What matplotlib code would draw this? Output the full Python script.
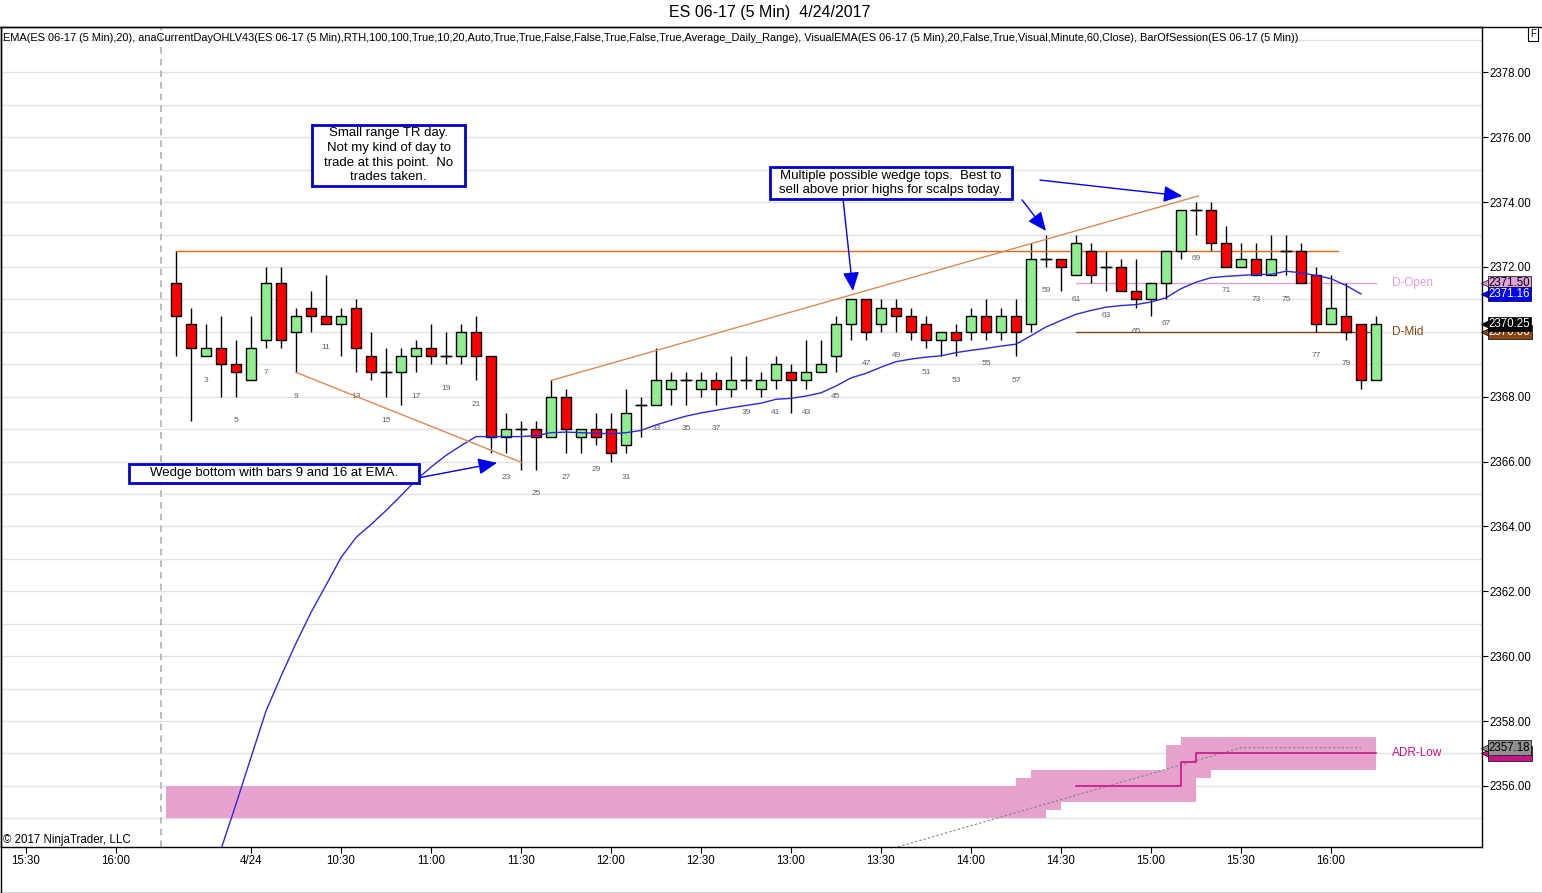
import matplotlib
matplotlib.use("Agg")
import matplotlib.pyplot as plt
import matplotlib.transforms as mtransforms
from matplotlib.patches import Rectangle
from matplotlib.lines import Line2D
from matplotlib.ticker import MultipleLocator, FormatStrFormatter
import numpy as np

plt.rcParams['font.family'] = ['Liberation Sans', 'DejaVu Sans']

# ES 06-17 5 min bars, 4/24/2017 RTH (bar 1 = 9:35)
opens = [2371.5, 2370.25, 2369.25, 2369.5, 2369.0, 2368.5, 2369.75, 2371.5, 2370.0, 2370.75,
         2370.5, 2370.25, 2370.75, 2369.25, 2368.75, 2368.75, 2369.25, 2369.5, 2369.25, 2369.25,
         2370.0, 2369.25, 2366.75, 2367.0, 2367.0, 2366.75, 2368.0, 2366.75, 2367.0, 2367.0,
         2366.5, 2367.75, 2367.75, 2368.25, 2368.5, 2368.25, 2368.5, 2368.25, 2368.5, 2368.25,
         2368.5, 2368.75, 2368.5, 2368.75, 2369.25, 2370.25, 2371.0, 2370.25, 2370.75, 2370.5,
         2370.25, 2369.75, 2370.0, 2370.0, 2370.5, 2370.0, 2370.5, 2370.25, 2372.25, 2372.25,
         2371.75, 2372.5, 2372.0, 2372.0, 2371.25, 2371.0, 2371.5, 2372.5, 2373.75, 2373.75,
         2372.75, 2372.0, 2372.25, 2371.75, 2372.5, 2372.5, 2371.75, 2370.25, 2370.5, 2370.25,
         2368.5]
highs = [2372.5, 2370.75, 2370.25, 2370.5, 2369.75, 2370.5, 2372.0, 2372.0, 2370.75, 2371.25,
         2371.75, 2370.75, 2371.0, 2370.0, 2369.5, 2369.5, 2369.75, 2370.25, 2370.0, 2370.25,
         2370.5, 2369.25, 2367.5, 2367.25, 2367.25, 2368.5, 2368.25, 2367.0, 2367.5, 2367.5,
         2368.25, 2368.0, 2369.5, 2368.75, 2368.75, 2368.75, 2368.75, 2369.25, 2369.25, 2368.75,
         2369.25, 2369.0, 2369.75, 2369.75, 2370.5, 2371.0, 2371.0, 2371.0, 2371.0, 2370.75,
         2370.5, 2370.0, 2370.25, 2370.75, 2371.0, 2370.75, 2371.0, 2372.75, 2373.0, 2372.25,
         2373.0, 2372.75, 2372.5, 2372.25, 2372.25, 2371.5, 2372.5, 2373.75, 2374.0, 2374.0,
         2373.25, 2372.75, 2372.75, 2373.0, 2373.0, 2372.75, 2372.0, 2371.75, 2371.5, 2370.25,
         2370.5]
lows = [2369.25, 2367.25, 2369.25, 2368.0, 2368.0, 2368.5, 2369.5, 2369.5, 2368.75, 2370.0,
        2370.25, 2369.25, 2368.75, 2368.5, 2368.0, 2367.75, 2368.75, 2369.0, 2369.0, 2369.0,
        2368.5, 2366.25, 2366.25, 2365.75, 2365.75, 2366.75, 2366.25, 2366.25, 2366.5, 2366.0,
        2366.25, 2366.75, 2367.75, 2367.75, 2367.75, 2368.0, 2367.75, 2368.0, 2368.25, 2368.0,
        2368.25, 2367.5, 2368.25, 2368.75, 2368.75, 2369.75, 2369.75, 2370.0, 2370.0, 2369.75,
        2369.5, 2369.25, 2369.25, 2369.75, 2369.75, 2369.75, 2369.25, 2370.0, 2372.0, 2371.25,
        2371.75, 2371.5, 2371.25, 2371.25, 2370.75, 2370.5, 2371.0, 2372.25, 2373.0, 2372.5,
        2372.0, 2372.0, 2371.75, 2371.75, 2371.75, 2371.5, 2370.0, 2370.25, 2369.75, 2368.25,
        2368.5]
closes = [2370.5, 2369.5, 2369.5, 2369.0, 2368.75, 2369.5, 2371.5, 2369.75, 2370.5, 2370.5,
          2370.25, 2370.5, 2369.5, 2368.75, 2368.75, 2369.25, 2369.5, 2369.25, 2369.25, 2370.0,
          2369.25, 2366.75, 2367.0, 2367.0, 2366.75, 2368.0, 2367.0, 2367.0, 2366.75, 2366.25,
          2367.5, 2367.75, 2368.5, 2368.5, 2368.5, 2368.5, 2368.25, 2368.5, 2368.5, 2368.5,
          2369.0, 2368.5, 2368.75, 2369.0, 2370.25, 2371.0, 2370.0, 2370.75, 2370.5, 2370.0,
          2369.75, 2370.0, 2369.75, 2370.5, 2370.0, 2370.5, 2370.0, 2372.25, 2372.25, 2372.0,
          2372.75, 2371.75, 2372.0, 2371.25, 2371.0, 2371.5, 2372.5, 2373.75, 2373.75, 2372.75,
          2372.0, 2372.25, 2371.75, 2372.25, 2372.5, 2371.5, 2370.25, 2370.75, 2370.0, 2368.5,
          2370.25]

# EMA(20) as drawn, starting at bar index 2
ema_start = 2
ema = [2352.6, 2354.05, 2355.44, 2356.88, 2358.31, 2359.38, 2360.40, 2361.35, 2362.19, 2363.04,
       2363.66, 2364.06, 2364.49, 2364.95, 2365.43, 2365.83, 2366.19, 2366.49, 2366.77, 2366.77,
       2366.77, 2366.77, 2366.80, 2366.89, 2366.91, 2366.89, 2366.87, 2366.86, 2366.89, 2366.96,
       2367.13, 2367.27, 2367.40, 2367.50, 2367.58, 2367.66, 2367.73, 2367.80, 2367.92, 2367.95,
       2368.02, 2368.12, 2368.33, 2368.58, 2368.72, 2368.91, 2369.08, 2369.16, 2369.22, 2369.26,
       2369.36, 2369.43, 2369.49, 2369.56, 2369.62, 2369.88, 2370.15, 2370.35, 2370.54, 2370.66,
       2370.76, 2370.81, 2370.84, 2370.92, 2371.05, 2371.33, 2371.53, 2371.67, 2371.71, 2371.74,
       2371.77, 2371.77, 2371.87, 2371.82, 2371.74, 2371.64, 2371.43, 2371.17]

# ADR low zone (step band) and ADR-Low line
band_x = [-0.7, 56, 57, 58, 59, 66, 67, 68, 69, 80]
band_lo = [2355.0, 2355.0, 2355.0, 2355.25, 2355.5, 2355.5, 2355.5, 2356.25, 2356.5, 2356.5]
band_hi = [2356.0, 2356.25, 2356.5, 2356.5, 2356.5, 2357.25, 2357.5, 2357.5, 2357.5, 2357.5]
adr_x = [60, 67, 68, 80]
adr_y = [2356.0, 2356.75, 2357.0, 2357.0]
adr_dot_x = [47, 71, 79]
adr_dot_y = [2353.97, 2357.18, 2357.18]

day_open = 2371.5
day_mid = 2370.0
level_x = [60, 80]

# hand drawn lines
hod_line = ([0, 77.5], [2372.5, 2372.5])
wedge_low = ([8, 23.05], [2368.75, 2365.97])
wedge_high = ([25, 68.15], [2368.5, 2374.19])

time_pos = [-10, -4, 5, 11, 17, 23, 29, 35, 41, 47, 53, 59, 65, 71, 77]
time_labels = ['15:30', '16:00', '4/24', '10:30', '11:00', '11:30', '12:00', '12:30',
               '13:00', '13:30', '14:00', '14:30', '15:00', '15:30', '16:00']
session_break = -1.0

notes = [
    ("Small range TR day.\nNot my kind of day to\ntrade at this point.  No\ntrades taken.",
     9.07, 19.27, 2374.50, 2376.38),
    ("Multiple possible wedge tops.  Best to\nsell above prior highs for scalps today.",
     39.6, 55.73, 2374.10, 2375.08),
    ("Wedge bottom with bars 9 and 16 at EMA.", -3.13, 16.2, 2365.34, 2365.93),
]
arrows = [((16.2, 2365.5), (21.4, 2365.96)),
          ((44.47, 2374.10), (45.13, 2371.26)),
          ((56.4, 2374.07), (58.0, 2373.11)),
          ((57.6, 2374.68), (67.1, 2374.19))]

W, H = 1542, 893
fig = plt.figure(figsize=(W / 100, H / 100), dpi=100)
ax = fig.add_axes([1 / W, 46 / H, 1481 / W, 820 / H])
ax.set_xlim(-11.67, 87.07)
ax.set_ylim(2354.115, 2379.40)

ax.yaxis.tick_right()
ax.yaxis.set_major_locator(MultipleLocator(2))
ax.yaxis.set_minor_locator(MultipleLocator(1))
ax.yaxis.set_major_formatter(FormatStrFormatter('%.2f'))
ax.grid(which='both', axis='y', color='#e2e2e2', lw=1)
ax.set_axisbelow(True)
ax.tick_params(axis='y', which='major', direction='out', length=4, labelsize=8.3, pad=1)
ax.tick_params(axis='y', which='minor', length=0)
ax.set_xticks(time_pos)
ax.set_xticklabels(time_labels)
ax.tick_params(axis='x', direction='out', length=4, labelsize=8.3, pad=2)
for s in ax.spines.values():
    s.set_color('black')
    s.set_linewidth(1)

ax.axvline(session_break, color='#b0b0b0', ls=(0, (4, 3)), lw=1.2, zorder=1)

# ADR zone
ax.fill_between(band_x, band_lo, band_hi, step='post', color='#e6a2cd', lw=0, zorder=1)
ax.plot(adr_dot_x, adr_dot_y, color='#808080', ls=(0, (2, 2)), lw=0.8, zorder=2)
ax.plot(adr_x, adr_y, drawstyle='steps-post', color='#c71585', lw=1.2, zorder=2)

# day levels
ax.plot(level_x, [day_open, day_open], color='#dda0dd', lw=1, zorder=2)
ax.plot(level_x, [day_mid, day_mid], color='#8b4513', lw=1, zorder=2)
ax.text(81.1, day_open, 'D-Open', color='#dda0dd', fontsize=8.5, va='center')
ax.text(81.1, day_mid, 'D-Mid', color='#8b4513', fontsize=8.5, va='center')
ax.text(81.1, 2357.0, 'ADR-Low', color='#c71585', fontsize=8.5, va='center')

# candles
x = np.arange(len(opens))
o = np.array(opens); c = np.array(closes)
ax.vlines(x, lows, highs, color='black', lw=1, zorder=3)
body_lo = np.minimum(o, c)
body_h = np.abs(c - o)
cols = ['#90ee90' if cc > oo else '#ff0000' for oo, cc in zip(o, c)]
ax.bar(x, body_h, bottom=body_lo, width=0.67, color=cols, edgecolor='black', lw=1, zorder=4)
doji = body_h == 0
ax.hlines(o[doji], x[doji] - 0.4, x[doji] + 0.4, color='black', lw=1, zorder=4)

# bar numbers
for k in range(3, 80, 2):
    ax.text(k - 1, lows[k - 1] - 0.74, str(k), fontsize=6, color='#606060',
            ha='center', va='center', zorder=4)

ax.plot(np.arange(len(ema)) + ema_start, ema, color='#2a2ad8', lw=1, zorder=5)

ax.plot(*hod_line, color='#d2691e', lw=1, zorder=3)
ax.plot(*wedge_low, color='#dc8a55', lw=1, zorder=5)
ax.plot(*wedge_high, color='#dc8a55', lw=1, zorder=5)

for txt, x0, x1, y0, y1 in notes:
    ax.add_patch(Rectangle((x0, y0), x1 - x0, y1 - y0, fc='white', ec='#0000cc',
                           lw=2, zorder=6))
    ax.text((x0 + x1) / 2, (y0 + y1) / 2, txt, ha='center', va='center', fontsize=9.5,
            linespacing=1.3, zorder=7)
for tail, tip in arrows:
    ax.annotate('', xy=tip, xytext=tail, zorder=8,
                arrowprops=dict(arrowstyle='-|>,head_length=1.15,head_width=0.5',
                                mutation_scale=10, color='#0000ee', lw=1,
                                shrinkA=0, shrinkB=0))

# price tags on the right axis
trans = mtransforms.blended_transform_factory(ax.transAxes, ax.transData)
tags = [(2370.00, '#8b4513', 'white'), (2370.25, 'black', 'white'),
        (2371.50, '#dda0dd', 'black'), (2371.16, '#0000ff', 'white'),
        (2357.00, '#c71585', 'white'), (2357.18, '#909090', 'black')]
for val, bg, fg in tags:
    ax.plot([1.0025], [val], marker='<', ms=7, color=bg, mec='black', mew=0.5,
            transform=trans, clip_on=False, zorder=9)
    ax.text(1.0045, val, '%.2f' % val, transform=trans, fontsize=8.3, color=fg,
            va='center', ha='left', zorder=10, clip_on=False,
            bbox=dict(boxstyle='square,pad=0.1', fc=bg, ec='black', lw=0.5))

fig.text(770 / W, 1 - 13 / H, 'ES 06-17 (5 Min)  4/24/2017', ha='center', va='center',
         fontsize=11.5)
fig.text(3 / W, 1 - 38 / H,
         'EMA(ES 06-17 (5 Min),20), anaCurrentDayOHLV43(ES 06-17 (5 Min),RTH,100,100,True,10,20,'
         'Auto,True,True,False,False,True,False,True,Average_Daily_Range), VisualEMA(ES 06-17 '
         '(5 Min),20,False,True,Visual,Minute,60,Close), BarOfSession(ES 06-17 (5 Min))',
         fontsize=7.95, va='center')
fig.text(3 / W, 1 - 840 / H, '\u00a9 2017 NinjaTrader, LLC', fontsize=8.3, va='center')
fig.text(1533 / W, 1 - 34 / H, 'F', fontsize=7, ha='center', va='center',
         bbox=dict(boxstyle='square,pad=0.2', fc='white', ec='black', lw=0.8))
fig.add_artist(Line2D([0, 1], [1 - 27 / H] * 2, color='black', lw=1))
fig.add_artist(Line2D([0.5 / W] * 2, [0, 1 - 27 / H], color='black', lw=1))
fig.add_artist(Line2D([0, 1], [0.5 / H] * 2, color='black', lw=1))

fig.savefig('out.png', dpi=100)
